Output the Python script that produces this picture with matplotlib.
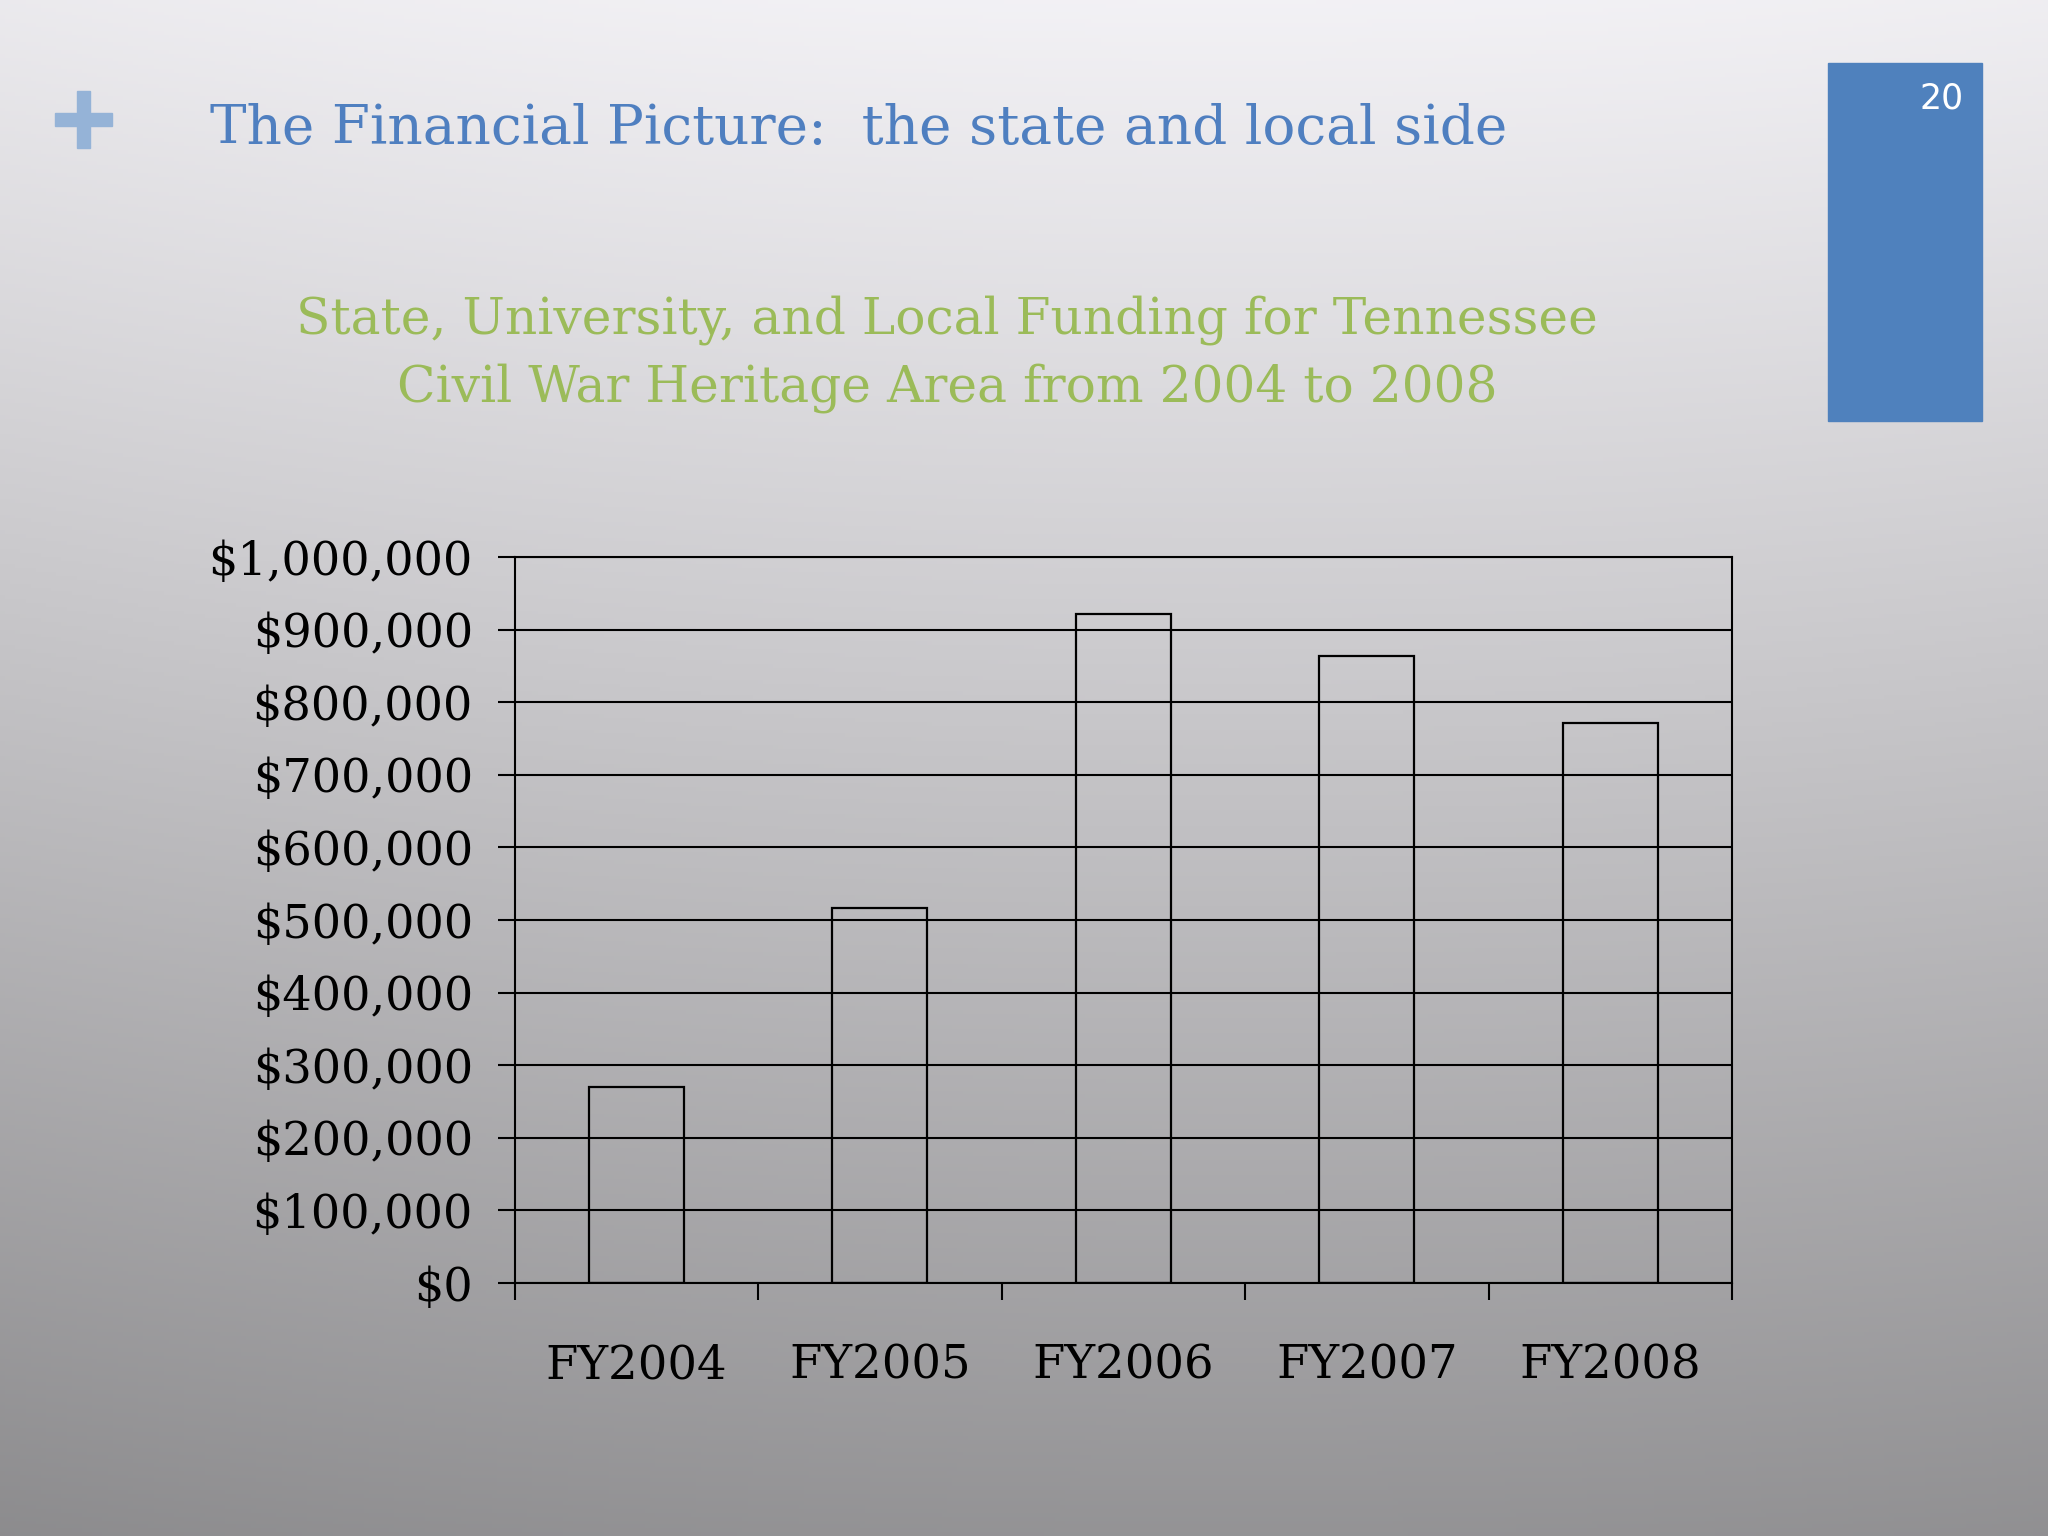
import numpy as np
import matplotlib.pyplot as plt
from matplotlib.patches import Rectangle
from matplotlib.ticker import FuncFormatter, FixedLocator

years = ["FY2004", "FY2005", "FY2006", "FY2007", "FY2008"]
funding = [270000, 516000, 922000, 863500, 771000]
yticks = [0, 100000, 200000, 300000, 400000, 500000, 600000, 700000, 800000, 900000, 1000000]

title = "The Financial Picture:  the state and local side"
subtitle = "State, University, and Local Funding for Tennessee\nCivil War Heritage Area from 2004 to 2008"
slide_no = "20"

fig = plt.figure(figsize=(20.48, 15.36), dpi=100)

# slide background gradient (light top, grey bottom)
bg = fig.add_axes([0, 0, 1, 1])
yy, xx = np.mgrid[0:1:400j, 0:1:400j]
v = 0.95 - 0.37 * yy**1.05 - 0.08 * (xx - 0.6)**2
v = np.clip(v, 0, 1)
img = np.dstack([v, v * 0.995, v * 1.01])
bg.imshow(np.clip(img, 0, 1), aspect="auto", extent=[0, 1, 0, 1], origin="upper")
bg.axis("off")

# plus sign and slide number box
plus_col = "#95B3D7"
fig.patches.append(Rectangle((0.0269, 0.9178), 0.0278, 0.0085, transform=fig.transFigure, color=plus_col))
fig.patches.append(Rectangle((0.0376, 0.9036), 0.0064, 0.0371, transform=fig.transFigure, color=plus_col))
fig.patches.append(Rectangle((0.8926, 0.7259), 0.0752, 0.2331, transform=fig.transFigure, color="#4F81BD"))
fig.text(0.9482, 0.936, slide_no, color="white", fontsize=25, ha="center", va="center", family="DejaVu Sans")

fig.text(0.1025, 0.916, title, color="#4F7FC0", fontsize=39.5, ha="left", va="center", family="DejaVu Serif")
fig.text(0.4625, 0.7695, subtitle, color="#9BBB59", fontsize=36.2, ha="center", va="center",
         family="DejaVu Serif", linespacing=1.45)

ax = fig.add_axes([0.2513, 0.1647, 0.5945, 0.4727])
ax.set_facecolor("none")
x = np.arange(len(years))
ax.bar(x, funding, width=0.39, facecolor="none", edgecolor="black", linewidth=1.6, zorder=3)

ax.set_xlim(-0.5, len(years) - 0.5)
ax.set_ylim(0, 1000000)
ax.set_yticks(yticks)
ax.yaxis.set_major_formatter(FuncFormatter(lambda val, pos: "${:,.0f}".format(val)))
ax.grid(axis="y", color="black", linewidth=1.5, zorder=1)
ax.set_xticks(x)
ax.set_xticklabels(years)
ax.xaxis.set_minor_locator(FixedLocator(np.arange(-0.5, len(years), 1.0)))
ax.tick_params(axis="x", which="major", length=0, pad=43, labelsize=33.5)
ax.tick_params(axis="x", which="minor", length=12, width=1.5, color="black")
ax.tick_params(axis="y", length=12, width=1.5, pad=18, labelsize=33.3)
for lab in ax.get_xticklabels() + ax.get_yticklabels():
    lab.set_family("DejaVu Serif")
for s in ax.spines.values():
    s.set_color("black")
    s.set_linewidth(1.5)

plt.savefig("out.png", dpi=100)
